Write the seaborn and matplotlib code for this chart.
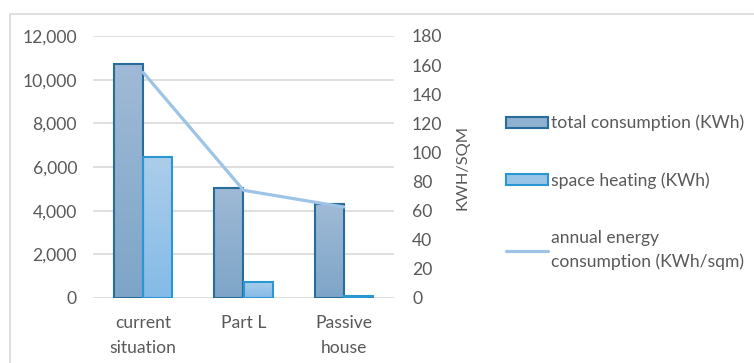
import numpy as np
import pandas as pd
import matplotlib
matplotlib.use("Agg")
import matplotlib.pyplot as plt
from matplotlib.patches import Patch, Rectangle
from matplotlib.lines import Line2D
from matplotlib.colors import LinearSegmentedColormap
import seaborn as sns

categories = ["current\nsituation", "Part L", "Passive\nhouse"]
total_kwh = [10700, 5050, 4300]
heating_kwh = [6450, 750, 100]
annual_kwh_sqm = [155, 74, 62.5]
series_names = ["total consumption (KWh)", "space heating (KWh)"]
line_name = "annual energy\nconsumption (KWh/sqm)"
left_ticks = [0, 2000, 4000, 6000, 8000, 10000, 12000]
right_ticks = [0, 20, 40, 60, 80, 100, 120, 140, 160, 180]

sns.set_theme(style="white")
plt.rcParams["font.family"] = ["Lato", "DejaVu Sans"]
text_col = "#595959"
fs = 12.6

df = pd.DataFrame({
    "category": categories * 2,
    "value": total_kwh + heating_kwh,
    "series": [series_names[0]] * 3 + [series_names[1]] * 3,
})

fig = plt.figure(figsize=(7.54, 3.63), dpi=100)
fig.patch.set_facecolor("white")
# light outer frame
fig.patches.append(Rectangle((10 / 754, -0.1), 1.2, 1.1 - 14 / 363, transform=fig.transFigure,
                             fill=False, edgecolor="#d9d9d9", linewidth=1.2, zorder=0))

ax = fig.add_axes([93 / 754, 1 - 298 / 363, (394 - 93) / 754, (298 - 36) / 363])
ax.set_facecolor("none")

edge_cols = {series_names[0]: "#286c9c", series_names[1]: "#2a96d2"}
grad_cols = {series_names[0]: ("#9fbad6", "#7ea5c8"), series_names[1]: ("#abcdea", "#84bbe7")}

sns.barplot(data=df, x="category", y="value", hue="series", ax=ax, width=0.58,
            palette={k: v[0] for k, v in grad_cols.items()}, legend=False,
            edgecolor="none", linewidth=0, zorder=3)

# vertical gradient fill and outline for each bar
bars = [p for p in ax.patches if isinstance(p, Rectangle)]
n = len(categories)
for i, p in enumerate(bars):
    sname = series_names[i // n]
    top, bottom = grad_cols[sname]
    cmap = LinearSegmentedColormap.from_list("g", [bottom, top])
    x0, y0, w, h = p.get_x(), p.get_y(), p.get_width(), p.get_height()
    grad = np.linspace(0, 1, 100).reshape(-1, 1)
    im = ax.imshow(grad, extent=[x0, x0 + w, y0, y0 + h], origin="lower", aspect="auto",
                   cmap=cmap, zorder=3)
    im.set_clip_path(p)
    p.set_facecolor("none")
    p.set_edgecolor(edge_cols[sname])
    p.set_linewidth(1.5)
    p.set_zorder(4)

ax.set_xlim(-0.5, 2.5)
ax.set_ylim(0, 12000)
ax.set_yticks(left_ticks)
ax.set_yticklabels([f"{t:,}" for t in left_ticks])
ax.set_xticks(range(len(categories)))
ax.set_xticklabels(categories, linespacing=1.75)
ax.yaxis.grid(True, color="#d9d9d9", linewidth=1.2)
ax.set_axisbelow(True)
for s in ax.spines.values():
    s.set_visible(False)
ax.tick_params(axis="y", length=0, pad=11.5, labelsize=fs, labelcolor=text_col)
ax.tick_params(axis="x", length=0, pad=12, labelsize=fs, labelcolor=text_col)
ax.set_xlabel("")
ax.set_ylabel("")

ax2 = ax.twinx()
sns.lineplot(x=categories, y=annual_kwh_sqm, ax=ax2, color="#9dc3e6", linewidth=2.3, sort=False,
             zorder=5)
ax2.set_ylim(0, 180)
ax2.set_yticks(right_ticks)
for s in ax2.spines.values():
    s.set_visible(False)
ax2.tick_params(axis="y", length=0, pad=13, labelsize=fs, labelcolor=text_col)
ax2.set_ylabel("KWH/SQM", fontsize=11.8, color=text_col)
ax2.yaxis.set_label_coords(1.205, 0.5)
ax2.set_xlim(-0.5, 2.5)

handles = [
    Patch(facecolor="#8fb0cf", edgecolor=edge_cols[series_names[0]], linewidth=1.5),
    Patch(facecolor="#98c4e8", edgecolor=edge_cols[series_names[1]], linewidth=1.5),
    Line2D([0], [0], color="#9dc3e6", linewidth=2.3),
]
leg = fig.legend(handles, series_names + [line_name], loc="upper left",
                 bbox_to_anchor=(490 / 754, 1 - 99 / 363), frameon=False, fontsize=fs,
                 handlelength=2.4, handleheight=0.6, handletextpad=0.2, labelspacing=2.35,
                 labelcolor=text_col)
for t in leg.get_texts():
    t.set_linespacing(1.55)

fig.savefig("out.png", dpi=100)
